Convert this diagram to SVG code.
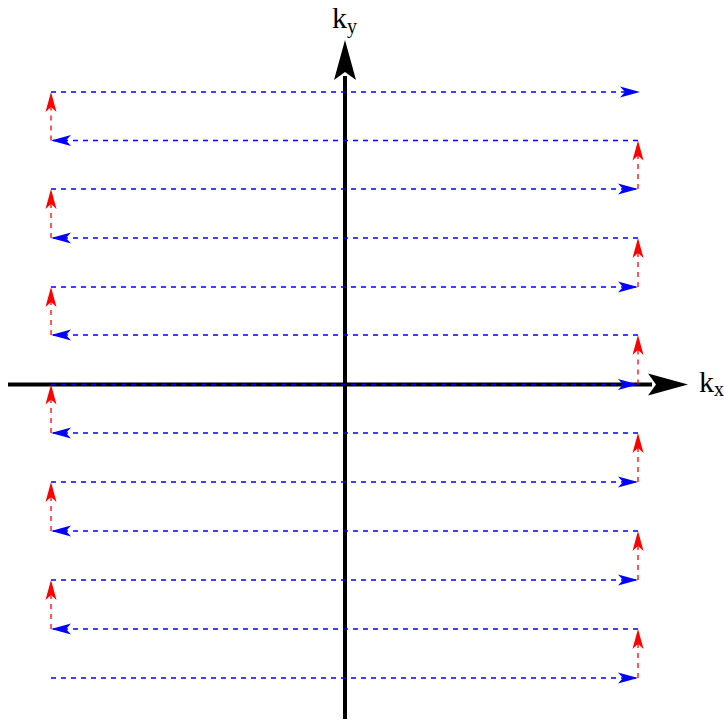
<svg xmlns="http://www.w3.org/2000/svg" width="724" height="722" viewBox="0 0 724 722">
<style>
.ax{stroke:#000;stroke-width:4;fill:none}
.b{stroke:#0000ff;stroke-width:1.3;stroke-dasharray:5 5;fill:none;marker-end:url(#hb)}
.r{stroke:#ff0000;stroke-width:1.3;stroke-dasharray:5 5;fill:none;marker-end:url(#hr)}
.lbl{font-family:"Liberation Serif","DejaVu Serif",serif;font-size:30px;fill:#000}
.sub{font-size:20px}
</style>
<defs>
<marker id="hb" markerUnits="userSpaceOnUse" orient="auto" markerWidth="24" markerHeight="14" refX="0" refY="0" viewBox="-22 -7 24 14" overflow="visible">
<path d="M0,0 L-20,-5.5 L-15,0 L-20,5.5 Z" fill="#0000ff"/>
</marker>
<marker id="hr" markerUnits="userSpaceOnUse" orient="auto" markerWidth="24" markerHeight="14" refX="0" refY="0" viewBox="-22 -7 24 14" overflow="visible">
<path d="M0,0 L-20,-5.5 L-15,0 L-20,5.5 Z" fill="#ff0000"/>
</marker>
</defs>
<g id="axes">
<line class="ax" x1="8" y1="384.5" x2="652" y2="384.5"/>
<path d="M688,384.5 L648,373.5 L656,384.5 L648,395.5 Z" fill="#000"/>
<line class="ax" x1="345" y1="719" x2="345" y2="76"/>
<path d="M345,40 L334,80 L345,72 L356,80 Z" fill="#000"/>
<text class="lbl" x="332" y="28">k<tspan class="sub" dy="5">y</tspan></text>
<text class="lbl" x="699" y="392">k<tspan class="sub" dy="4">x</tspan></text>
</g>
<g id="trajectory">
<line class="b" x1="51" y1="678" x2="638" y2="678"/>
<line class="r" x1="638" y1="678" x2="638" y2="629"/>
<line class="b" x1="638" y1="629" x2="51" y2="629"/>
<line class="r" x1="51" y1="629" x2="51" y2="580"/>
<line class="b" x1="51" y1="580" x2="638" y2="580"/>
<line class="r" x1="638" y1="580" x2="638" y2="531"/>
<line class="b" x1="638" y1="531" x2="51" y2="531"/>
<line class="r" x1="51" y1="531" x2="51" y2="482"/>
<line class="b" x1="51" y1="482" x2="638" y2="482"/>
<line class="r" x1="638" y1="482" x2="638" y2="433"/>
<line class="b" x1="638" y1="433" x2="51" y2="433"/>
<line class="r" x1="51" y1="433" x2="51" y2="384.5"/>
<line class="b" x1="51" y1="384.5" x2="638" y2="384.5"/>
<line class="r" x1="638" y1="384.5" x2="638" y2="335"/>
<line class="b" x1="638" y1="335" x2="51" y2="335"/>
<line class="r" x1="51" y1="335" x2="51" y2="287"/>
<line class="b" x1="51" y1="287" x2="638" y2="287"/>
<line class="r" x1="638" y1="287" x2="638" y2="238"/>
<line class="b" x1="638" y1="238" x2="51" y2="238"/>
<line class="r" x1="51" y1="238" x2="51" y2="189"/>
<line class="b" x1="51" y1="189" x2="638" y2="189"/>
<line class="r" x1="638" y1="189" x2="638" y2="140.5"/>
<line class="b" x1="638" y1="140.5" x2="51" y2="140.5"/>
<line class="r" x1="51" y1="140.5" x2="51" y2="92"/>
<line class="b" x1="51" y1="92" x2="640" y2="92"/>
</g>
</svg>
